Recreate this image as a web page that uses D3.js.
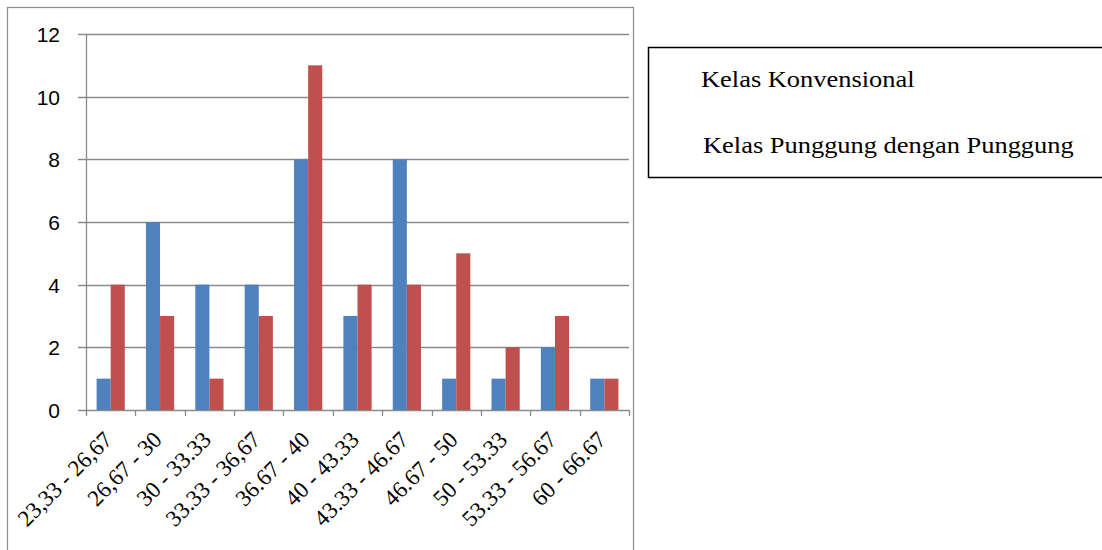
<!DOCTYPE html>
<html>
<head>
<meta charset="utf-8">
<script src="https://cdn.jsdelivr.net/npm/d3@7"></script>
<style>
  body { margin: 0; background: #fff; }
  svg { display: block; }
</style>
</head>
<body>
<svg id="chart" width="1102" height="550"></svg>
<script>
const categories = ['23,33 - 26,67', '26,67 - 30', '30 - 33.33', '33.33 - 36,67', '36.67 - 40',
  '40 - 43.33', '43.33 - 46.67', '46.67 - 50', '50 - 53.33', '53.33 - 56.67', '60 - 66.67']
const konvensional = [1, 6, 4, 4, 8, 3, 8, 1, 1, 2, 1]
const punggung = [4, 3, 1, 3, 11, 4, 4, 5, 2, 3, 1]
const seriesNames = ['Kelas Konvensional', 'Kelas Punggung dengan Punggung']
const yTicks = [0, 2, 4, 6, 8, 10, 12]

const plotLeft = 86
const plotRight = 629
const plotTop = 34
const plotBottom = 410

const svg = d3.select('#chart')

// outer chart frame
svg.append('rect')
  .attr('x', 7.5).attr('y', 7.5)
  .attr('width', 626).attr('height', 560)
  .attr('fill', 'none')
  .attr('stroke', '#8c8c8c')
  .attr('stroke-width', 1.2)

const xscale = d3.scaleBand()
  .domain(categories)
  .range([plotLeft, plotRight])

const inner = d3.scaleBand()
  .domain([0, 1])
  .range([0, xscale.bandwidth()])
  .paddingInner(0)
  .paddingOuter(0.75)

const yscale = d3.scaleLinear()
  .domain([0, 12])
  .range([plotBottom, plotTop])

// gridlines
svg.append('g')
  .selectAll('line')
  .data(yTicks)
  .enter()
  .append('line')
  .attr('x1', plotLeft - 8)
  .attr('x2', plotRight)
  .attr('y1', (d) => Math.round(yscale(d)) + 0.5)
  .attr('y2', (d) => Math.round(yscale(d)) + 0.5)
  .attr('stroke', '#8a8a8a')
  .attr('stroke-width', 1.3)

// y axis line
svg.append('line')
  .attr('x1', plotLeft + 0.5).attr('x2', plotLeft + 0.5)
  .attr('y1', plotTop).attr('y2', plotBottom + 0.5)
  .attr('stroke', '#8a8a8a')
  .attr('stroke-width', 1.3)

svg.append('g')
  .selectAll('text')
  .data(yTicks)
  .enter()
  .append('text')
  .attr('x', 60)
  .attr('y', (d) => yscale(d) + 8)
  .attr('text-anchor', 'end')
  .style('font-family', '"Liberation Sans", Arial, sans-serif')
  .style('font-size', '21px')
  .attr('fill', '#000')
  .text((d) => d)

// x ticks
const xt = categories.map((c) => xscale(c)).concat([plotRight])
svg.append('g')
  .selectAll('line')
  .data(xt)
  .enter()
  .append('line')
  .attr('x1', (d) => Math.round(d) + 0.5)
  .attr('x2', (d) => Math.round(d) + 0.5)
  .attr('y1', plotBottom)
  .attr('y2', plotBottom + 6)
  .attr('stroke', '#8a8a8a')
  .attr('stroke-width', 1.3)

const rows = categories.map((c, i) => ({ name: c, values: [konvensional[i], punggung[i]] }))
const color = d3.scaleOrdinal().domain([0, 1]).range(['#4f81bd', '#c0504d'])

const groups = svg.append('g')
  .selectAll('g')
  .data(rows)
  .enter()
  .append('g')
  .attr('transform', (d) => `translate(${xscale(d.name)}, 0)`)

groups.selectAll('rect')
  .data((d) => d.values.map((v, k) => ({ k, v })))
  .enter()
  .append('rect')
  .attr('x', (d) => inner(d.k))
  .attr('y', (d) => yscale(d.v))
  .attr('width', inner.bandwidth())
  .attr('height', (d) => plotBottom - yscale(d.v))
  .attr('fill', (d) => color(d.k))

// x labels rotated
svg.append('g')
  .selectAll('text')
  .data(categories)
  .enter()
  .append('text')
  .attr('transform', (d) => `translate(${xscale(d) + xscale.bandwidth() / 2 + 3}, 441) rotate(-45)`)
  .attr('text-anchor', 'end')
  .style('font-family', '"Liberation Serif", "Times New Roman", serif')
  .style('font-size', '23px')
  .attr('fill', '#000')
  .text((d) => d)

// legend box
svg.append('rect')
  .attr('x', 648.5).attr('y', 47.5)
  .attr('width', 470).attr('height', 130)
  .attr('fill', 'none')
  .attr('stroke', '#000')
  .attr('stroke-width', 1.5)

svg.append('g')
  .selectAll('text')
  .data(seriesNames)
  .enter()
  .append('text')
  .attr('transform', (d, i) => `translate(${701 + i * 2}, ${87 + i * 66}) scale(1.15, 1)`)
  .style('font-family', '"Liberation Serif", "Times New Roman", serif')
  .style('font-size', '23px')
  .attr('fill', '#000')
  .text((d) => d)
</script>
</body>
</html>
